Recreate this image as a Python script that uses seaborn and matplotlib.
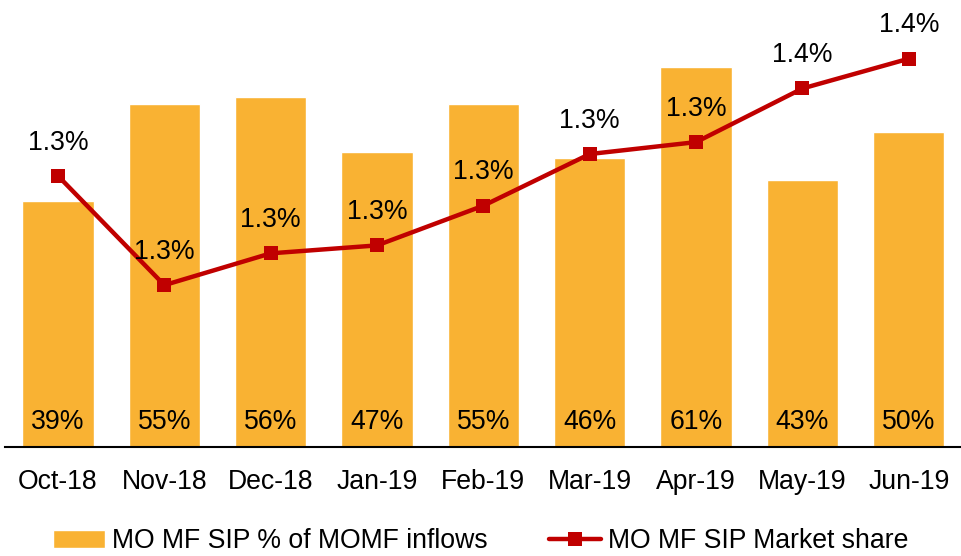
import pandas as pd
import seaborn as sns
from matplotlib import pyplot as plt

months = ["Oct-18", "Nov-18", "Dec-18", "Jan-19", "Feb-19",
          "Mar-19", "Apr-19", "May-19", "Jun-19"]
sip_share_of_inflows = [39.4, 55.0, 56.1, 47.3, 55.0, 46.3, 60.9, 42.8, 50.4]
sip_market_share = [1.315, 1.26, 1.276, 1.28, 1.30, 1.326, 1.332, 1.359, 1.374]

df = pd.DataFrame({
    "month": months,
    "inflows": sip_share_of_inflows,
    "mshare": sip_market_share,
})

sns.set_style("white")
plt.rcParams['font.family'] = ['Liberation Sans', 'DejaVu Sans']
plt.rcParams['font.size'] = 19.2
plt.rcParams['text.color'] = 'black'
plt.rcParams['xtick.color'] = 'black'

bar_color = "#F9B233"
line_color = "#C00000"

fig = plt.figure(figsize=(9.62, 5.56), dpi=100)
ax = fig.add_axes([0.005, 0.196, 0.995, 0.786])
sns.barplot(data=df, x="month", y="inflows", color=bar_color,
            width=0.67, saturation=1, ax=ax, label="MO MF SIP % of MOMF inflows")
ax.set_ylim(0, 70)
ax.set_xlim(-0.5, len(months) - 0.5)
for i, v in enumerate(sip_share_of_inflows):
    ax.text(i, 4, f"{v:.0f}%", ha="center", va="center", fontsize=19.2)

ax2 = ax.twinx()
sns.lineplot(data=df, x="month", y="mshare", color=line_color, linewidth=3.2,
             marker="s", markersize=10.5, markeredgewidth=0, ax=ax2,
             label="MO MF SIP Market share")
ax2.set_ylim(1.1785, 1.3985)
for i, v in enumerate(sip_market_share):
    ax2.annotate(f"{v:.1f}%", (i, v), xytext=(0, 24), textcoords="offset points",
                 ha="center", va="center", fontsize=19.2)

for a in (ax, ax2):
    a.set_yticks([])
    a.set_ylabel("")
    a.set_xlabel("")
    for s in ("top", "left", "right"):
        a.spines[s].set_visible(False)
ax2.spines["bottom"].set_visible(False)
ax.spines["bottom"].set_color("black")
ax.spines["bottom"].set_linewidth(1.5)
ax.tick_params(axis="x", length=0, pad=16, labelsize=19.2)

h1, l1 = ax.get_legend_handles_labels()
h2, l2 = ax2.get_legend_handles_labels()
ax2.get_legend().remove()
if ax.get_legend():
    ax.get_legend().remove()
fig.legend(h1 + h2, l1 + l2, loc="lower center", bbox_to_anchor=(0.5, -0.04),
           ncol=2, frameon=False, fontsize=19.2, handlelength=1.95,
           handletextpad=0.27, columnspacing=2.3)

plt.savefig("out.png", dpi=100)
